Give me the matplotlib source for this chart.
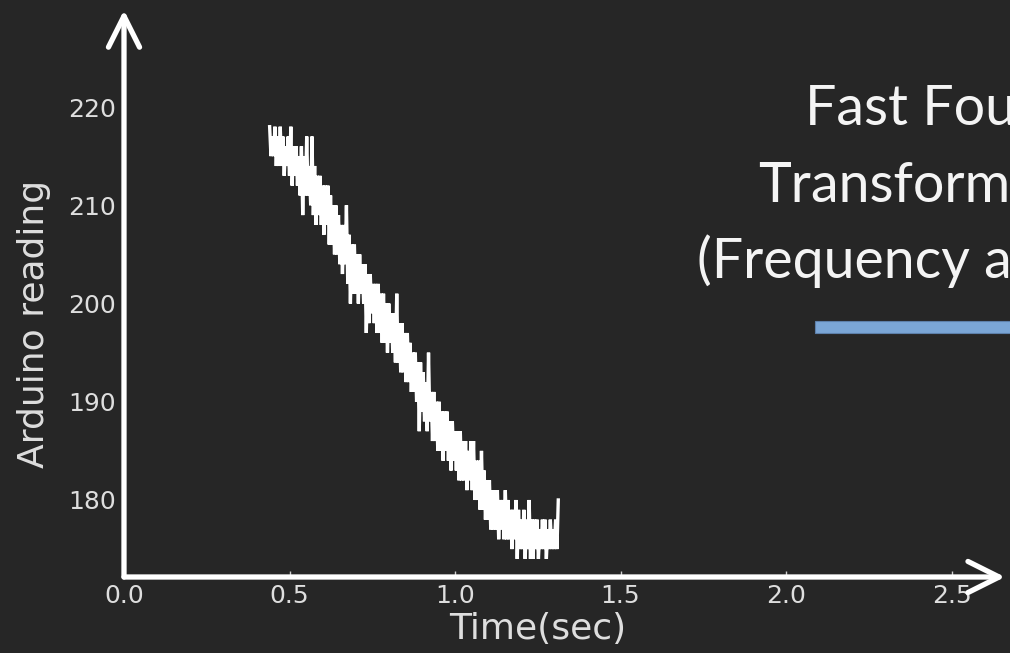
import numpy as np
import matplotlib
matplotlib.use('Agg')
from matplotlib import pyplot as plt
from matplotlib.patches import Rectangle

# Arduino samples: first one taken at t_start, then one every sample_period seconds
t_start = 0.44
sample_period = 0.004
reading = [218, 215, 217, 215, 218, 214, 217, 214, 218, 214,
           217, 213, 216, 214, 217, 213, 218, 212, 216, 213,
           216, 212, 215, 211, 216, 209, 215, 211, 217, 211,
           214, 210, 217, 209, 214, 208, 213, 209, 213, 208,
           212, 207, 212, 208, 212, 206, 211, 206, 210, 205,
           210, 205, 209, 204, 208, 203, 208, 204, 210, 202,
           207, 200, 206, 201, 206, 201, 205, 200, 205, 201,
           204, 200, 204, 197, 203, 198, 203, 199, 202, 198,
           202, 197, 202, 197, 201, 196, 201, 196, 200, 195,
           200, 196, 199, 195, 199, 194, 201, 194, 198, 193,
           198, 193, 197, 192, 197, 192, 196, 191, 195, 191,
           195, 190, 194, 187, 194, 189, 193, 188, 192, 187,
           195, 188, 191, 186, 191, 186, 190, 185, 190, 185,
           189, 184, 189, 185, 189, 184, 188, 183, 188, 184,
           187, 183, 187, 182, 187, 182, 186, 182, 186, 181,
           185, 182, 186, 181, 186, 180, 184, 180, 184, 179,
           185, 179, 183, 178, 182, 178, 182, 177, 181, 177,
           181, 177, 181, 176, 180, 177, 180, 176, 181, 176,
           180, 176, 179, 175, 179, 176, 180, 174, 179, 175,
           178, 175, 179, 174, 178, 175, 180, 174, 178, 174,
           178, 175, 178, 174, 177, 175, 178, 175, 178, 174,
           177, 175, 178, 175, 177, 175, 178, 175, 180]

x_ticks = [0.0, 0.5, 1.0, 1.5, 2.0, 2.5]
y_ticks = [180, 190, 200, 210, 220]
heading = ['Fast Fourier', 'Transform', '(Frequency analysis)']

W, H = 1010, 653
bg = '#262626'
fg = '#dedede'

fig = plt.figure(figsize=(W / 100, H / 100), dpi=100, facecolor=bg)
ax = fig.add_axes([124 / W, 76 / H, 876 / W, 507 / H])
ax.set_facecolor(bg)

time = t_start + sample_period * np.arange(len(reading))
ax.plot(time, reading, color='white', lw=2.4, solid_joinstyle='miter')

ax.set_xlim(0, 876 / 331)
ax.set_ylim(172.16, 223.77)
ax.set_xticks(x_ticks)
ax.set_yticks(y_ticks)
ax.set_xticklabels(['%.1f' % v for v in x_ticks])
ax.tick_params(axis='x', direction='in', length=4.5, width=1, color='#cfcfcf',
               pad=5, labelsize=18, labelcolor=fg)
ax.tick_params(axis='y', direction='in', length=0, pad=6, labelsize=18,
               labelcolor=fg)
for s in ax.spines.values():
    s.set_visible(False)

ax.set_xlabel('Time(sec)', fontsize=26, color=fg)
ax.set_ylabel('Arduino reading', fontsize=26, color=fg)
ax.xaxis.set_label_coords(0.472, -0.069)
ax.yaxis.set_label_coords(-0.083, 0.5)

# axes drawn as open-headed arrows
arrow = dict(arrowstyle='->, head_length=1.12, head_width=0.56', lw=3.8,
             color='white', mutation_scale=20, shrinkA=0, shrinkB=0)
ax.annotate('', xy=(1.0057, 0), xytext=(0, 0), xycoords='axes fraction',
            arrowprops=arrow, annotation_clip=False)
ax.annotate('', xy=(0, 1.118), xytext=(0, 0), xycoords='axes fraction',
            arrowprops=arrow, annotation_clip=False)

# side heading with its underline bar
for line, x0, base in zip(heading, [805, 758, 697], [125, 202, 278]):
    fig.text(x0 / W, 1 - base / H, line, fontsize=40, family='Lato',
             color='#f4f4f4', ha='left', va='baseline')
fig.add_artist(Rectangle((815 / W, 1 - 333 / H), 200 / W, 12 / H,
                         transform=fig.transFigure, facecolor='#7ba6d6',
                         edgecolor='#5d80aa', lw=0.8))

fig.savefig('out.png', dpi=100, facecolor=bg)
